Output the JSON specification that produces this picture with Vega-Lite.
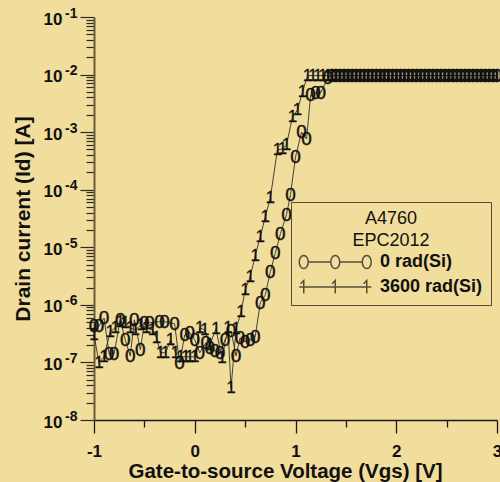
{
"$schema":"https://vega.github.io/schema/vega-lite/v6.json",
"width":403,"height":403,
"autosize":{"type":"none"},
"padding":{"left":94,"top":17,"right":3,"bottom":62},
"background":"#f1dd9c",
"config":{"view":{"stroke":null},"font":"Liberation Sans"},
"data":{"values":[
{"series":"0 rad(Si)","vgs":-1.00,"id":4.3e-7},{"series":"0 rad(Si)","vgs":-0.95,"id":4.3e-7},{"series":"0 rad(Si)","vgs":-0.90,"id":5.9e-7},{"series":"0 rad(Si)","vgs":-0.85,"id":1.41e-7},{"series":"0 rad(Si)","vgs":-0.80,"id":1.41e-7},{"series":"0 rad(Si)","vgs":-0.74,"id":5.5e-7},{"series":"0 rad(Si)","vgs":-0.69,"id":2.47e-7},{"series":"0 rad(Si)","vgs":-0.64,"id":1.3e-7},{"series":"0 rad(Si)","vgs":-0.60,"id":5.5e-7},{"series":"0 rad(Si)","vgs":-0.54,"id":1.66e-7},{"series":"0 rad(Si)","vgs":-0.50,"id":4.9e-7},{"series":"0 rad(Si)","vgs":-0.45,"id":4.9e-7},{"series":"0 rad(Si)","vgs":-0.35,"id":5.1e-7},{"series":"0 rad(Si)","vgs":-0.30,"id":5.1e-7},{"series":"0 rad(Si)","vgs":-0.20,"id":4.7e-7},{"series":"0 rad(Si)","vgs":-0.15,"id":9.8e-8},{"series":"0 rad(Si)","vgs":-0.10,"id":3.0e-7},{"series":"0 rad(Si)","vgs":-0.05,"id":3.3e-7},{"series":"0 rad(Si)","vgs":0.00,"id":2.47e-7},{"series":"0 rad(Si)","vgs":0.05,"id":1.47e-7},{"series":"0 rad(Si)","vgs":0.11,"id":2.19e-7},{"series":"0 rad(Si)","vgs":0.15,"id":1.79e-7},{"series":"0 rad(Si)","vgs":0.20,"id":1.59e-7},{"series":"0 rad(Si)","vgs":0.25,"id":1.47e-7},{"series":"0 rad(Si)","vgs":0.30,"id":2.47e-7},{"series":"0 rad(Si)","vgs":0.36,"id":3.5e-7},{"series":"0 rad(Si)","vgs":0.41,"id":1.3e-7},{"series":"0 rad(Si)","vgs":0.45,"id":2.67e-7},{"series":"0 rad(Si)","vgs":0.50,"id":2.28e-7},{"series":"0 rad(Si)","vgs":0.55,"id":2.47e-7},{"series":"0 rad(Si)","vgs":0.60,"id":2.78e-7},{"series":"0 rad(Si)","vgs":0.65,"id":1.08e-6},{"series":"0 rad(Si)","vgs":0.70,"id":1.49e-6},{"series":"0 rad(Si)","vgs":0.75,"id":3.74e-6},{"series":"0 rad(Si)","vgs":0.80,"id":8.0e-6},{"series":"0 rad(Si)","vgs":0.85,"id":1.71e-5},{"series":"0 rad(Si)","vgs":0.91,"id":3.65e-5},{"series":"0 rad(Si)","vgs":0.95,"id":8.1e-5},{"series":"0 rad(Si)","vgs":1.00,"id":3.7e-4},{"series":"0 rad(Si)","vgs":1.06,"id":1.0e-3},{"series":"0 rad(Si)","vgs":1.11,"id":7.6e-4},{"series":"0 rad(Si)","vgs":1.15,"id":4.4e-3},{"series":"0 rad(Si)","vgs":1.20,"id":4.8e-3},{"series":"0 rad(Si)","vgs":1.25,"id":4.8e-3},{"series":"0 rad(Si)","vgs":1.32,"id":8.7e-3},
{"series":"0 rad(Si)","vgs":1.36,"id":0.0096},{"series":"0 rad(Si)","vgs":1.40,"id":0.0096},{"series":"0 rad(Si)","vgs":1.44,"id":0.0096},{"series":"0 rad(Si)","vgs":1.48,"id":0.0096},{"series":"0 rad(Si)","vgs":1.52,"id":0.0096},{"series":"0 rad(Si)","vgs":1.56,"id":0.0096},{"series":"0 rad(Si)","vgs":1.60,"id":0.0096},{"series":"0 rad(Si)","vgs":1.64,"id":0.0096},{"series":"0 rad(Si)","vgs":1.68,"id":0.0096},{"series":"0 rad(Si)","vgs":1.72,"id":0.0096},{"series":"0 rad(Si)","vgs":1.76,"id":0.0096},{"series":"0 rad(Si)","vgs":1.80,"id":0.0096},{"series":"0 rad(Si)","vgs":1.84,"id":0.0096},{"series":"0 rad(Si)","vgs":1.88,"id":0.0096},{"series":"0 rad(Si)","vgs":1.92,"id":0.0096},{"series":"0 rad(Si)","vgs":1.96,"id":0.0096},{"series":"0 rad(Si)","vgs":2.00,"id":0.0096},{"series":"0 rad(Si)","vgs":2.04,"id":0.0096},{"series":"0 rad(Si)","vgs":2.08,"id":0.0096},{"series":"0 rad(Si)","vgs":2.12,"id":0.0096},{"series":"0 rad(Si)","vgs":2.16,"id":0.0096},{"series":"0 rad(Si)","vgs":2.20,"id":0.0096},{"series":"0 rad(Si)","vgs":2.24,"id":0.0096},{"series":"0 rad(Si)","vgs":2.28,"id":0.0096},{"series":"0 rad(Si)","vgs":2.32,"id":0.0096},{"series":"0 rad(Si)","vgs":2.36,"id":0.0096},{"series":"0 rad(Si)","vgs":2.40,"id":0.0096},{"series":"0 rad(Si)","vgs":2.44,"id":0.0096},{"series":"0 rad(Si)","vgs":2.48,"id":0.0096},{"series":"0 rad(Si)","vgs":2.52,"id":0.0096},{"series":"0 rad(Si)","vgs":2.56,"id":0.0096},{"series":"0 rad(Si)","vgs":2.60,"id":0.0096},{"series":"0 rad(Si)","vgs":2.64,"id":0.0096},{"series":"0 rad(Si)","vgs":2.68,"id":0.0096},{"series":"0 rad(Si)","vgs":2.72,"id":0.0096},{"series":"0 rad(Si)","vgs":2.76,"id":0.0096},{"series":"0 rad(Si)","vgs":2.80,"id":0.0096},{"series":"0 rad(Si)","vgs":2.84,"id":0.0096},{"series":"0 rad(Si)","vgs":2.88,"id":0.0096},{"series":"0 rad(Si)","vgs":2.92,"id":0.0096},{"series":"0 rad(Si)","vgs":2.96,"id":0.0096},{"series":"0 rad(Si)","vgs":3.00,"id":0.0096},
{"series":"3600 rad(Si)","vgs":-1.00,"id":3.0e-7},{"series":"3600 rad(Si)","vgs":-0.95,"id":9.8e-8},{"series":"3600 rad(Si)","vgs":-0.90,"id":1.25e-7},{"series":"3600 rad(Si)","vgs":-0.84,"id":3.4e-7},{"series":"3600 rad(Si)","vgs":-0.79,"id":4.0e-7},{"series":"3600 rad(Si)","vgs":-0.74,"id":5.07e-7},{"series":"3600 rad(Si)","vgs":-0.69,"id":4.86e-7},{"series":"3600 rad(Si)","vgs":-0.64,"id":4.0e-7},{"series":"3600 rad(Si)","vgs":-0.59,"id":3.68e-7},{"series":"3600 rad(Si)","vgs":-0.53,"id":4.5e-7},{"series":"3600 rad(Si)","vgs":-0.48,"id":4.0e-7},{"series":"3600 rad(Si)","vgs":-0.42,"id":3.68e-7},{"series":"3600 rad(Si)","vgs":-0.38,"id":2.67e-7},{"series":"3600 rad(Si)","vgs":-0.34,"id":1.47e-7},{"series":"3600 rad(Si)","vgs":-0.29,"id":1.47e-7},{"series":"3600 rad(Si)","vgs":-0.24,"id":2.47e-7},{"series":"3600 rad(Si)","vgs":-0.19,"id":1.47e-7},{"series":"3600 rad(Si)","vgs":-0.14,"id":1.25e-7},{"series":"3600 rad(Si)","vgs":-0.09,"id":1.25e-7},{"series":"3600 rad(Si)","vgs":-0.05,"id":1.25e-7},{"series":"3600 rad(Si)","vgs":0.00,"id":1.25e-7},{"series":"3600 rad(Si)","vgs":0.05,"id":4.0e-7},{"series":"3600 rad(Si)","vgs":0.10,"id":3.68e-7},{"series":"3600 rad(Si)","vgs":0.15,"id":2.02e-7},{"series":"3600 rad(Si)","vgs":0.21,"id":3.83e-7},{"series":"3600 rad(Si)","vgs":0.27,"id":1.2e-7},{"series":"3600 rad(Si)","vgs":0.33,"id":4.0e-7},{"series":"3600 rad(Si)","vgs":0.36,"id":3.6e-8},{"series":"3600 rad(Si)","vgs":0.41,"id":3.83e-7},{"series":"3600 rad(Si)","vgs":0.46,"id":7.55e-7},{"series":"3600 rad(Si)","vgs":0.50,"id":1.82e-6},{"series":"3600 rad(Si)","vgs":0.55,"id":3.06e-6},{"series":"3600 rad(Si)","vgs":0.60,"id":7.1e-6},{"series":"3600 rad(Si)","vgs":0.65,"id":1.52e-5},{"series":"3600 rad(Si)","vgs":0.70,"id":3.37e-5},{"series":"3600 rad(Si)","vgs":0.75,"id":7.2e-5},{"series":"3600 rad(Si)","vgs":0.82,"id":4.9e-4},{"series":"3600 rad(Si)","vgs":0.87,"id":5.1e-4},{"series":"3600 rad(Si)","vgs":0.91,"id":6.0e-4},{"series":"3600 rad(Si)","vgs":0.97,"id":1.84e-3},{"series":"3600 rad(Si)","vgs":1.02,"id":2.43e-3},{"series":"3600 rad(Si)","vgs":1.07,"id":5.0e-3},{"series":"3600 rad(Si)","vgs":1.12,"id":0.0096},{"series":"3600 rad(Si)","vgs":1.17,"id":0.0096},{"series":"3600 rad(Si)","vgs":1.22,"id":0.0096},{"series":"3600 rad(Si)","vgs":1.27,"id":0.0096},{"series":"3600 rad(Si)","vgs":1.32,"id":0.0096},
{"series":"3600 rad(Si)","vgs":1.36,"id":0.0096},{"series":"3600 rad(Si)","vgs":1.40,"id":0.0096},{"series":"3600 rad(Si)","vgs":1.44,"id":0.0096},{"series":"3600 rad(Si)","vgs":1.48,"id":0.0096},{"series":"3600 rad(Si)","vgs":1.52,"id":0.0096},{"series":"3600 rad(Si)","vgs":1.56,"id":0.0096},{"series":"3600 rad(Si)","vgs":1.60,"id":0.0096},{"series":"3600 rad(Si)","vgs":1.64,"id":0.0096},{"series":"3600 rad(Si)","vgs":1.68,"id":0.0096},{"series":"3600 rad(Si)","vgs":1.72,"id":0.0096},{"series":"3600 rad(Si)","vgs":1.76,"id":0.0096},{"series":"3600 rad(Si)","vgs":1.80,"id":0.0096},{"series":"3600 rad(Si)","vgs":1.84,"id":0.0096},{"series":"3600 rad(Si)","vgs":1.88,"id":0.0096},{"series":"3600 rad(Si)","vgs":1.92,"id":0.0096},{"series":"3600 rad(Si)","vgs":1.96,"id":0.0096},{"series":"3600 rad(Si)","vgs":2.00,"id":0.0096},{"series":"3600 rad(Si)","vgs":2.04,"id":0.0096},{"series":"3600 rad(Si)","vgs":2.08,"id":0.0096},{"series":"3600 rad(Si)","vgs":2.12,"id":0.0096},{"series":"3600 rad(Si)","vgs":2.16,"id":0.0096},{"series":"3600 rad(Si)","vgs":2.20,"id":0.0096},{"series":"3600 rad(Si)","vgs":2.24,"id":0.0096},{"series":"3600 rad(Si)","vgs":2.28,"id":0.0096},{"series":"3600 rad(Si)","vgs":2.32,"id":0.0096},{"series":"3600 rad(Si)","vgs":2.36,"id":0.0096},{"series":"3600 rad(Si)","vgs":2.40,"id":0.0096},{"series":"3600 rad(Si)","vgs":2.44,"id":0.0096},{"series":"3600 rad(Si)","vgs":2.48,"id":0.0096},{"series":"3600 rad(Si)","vgs":2.52,"id":0.0096},{"series":"3600 rad(Si)","vgs":2.56,"id":0.0096},{"series":"3600 rad(Si)","vgs":2.60,"id":0.0096},{"series":"3600 rad(Si)","vgs":2.64,"id":0.0096},{"series":"3600 rad(Si)","vgs":2.68,"id":0.0096},{"series":"3600 rad(Si)","vgs":2.72,"id":0.0096},{"series":"3600 rad(Si)","vgs":2.76,"id":0.0096},{"series":"3600 rad(Si)","vgs":2.80,"id":0.0096},{"series":"3600 rad(Si)","vgs":2.84,"id":0.0096},{"series":"3600 rad(Si)","vgs":2.88,"id":0.0096},{"series":"3600 rad(Si)","vgs":2.92,"id":0.0096},{"series":"3600 rad(Si)","vgs":2.96,"id":0.0096},{"series":"3600 rad(Si)","vgs":3.00,"id":0.0096}
]},
"encoding":{
"x":{"field":"vgs","type":"quantitative","scale":{"domain":[-1,3],"nice":false,"zero":false},
 "axis":{"values":[-1,-0.5,0,0.5,1,1.5,2,2.5,3],"labelExpr":"datum.value % 1 == 0 ? '' + datum.value : ''",
  "tickSize":{"condition":{"test":"datum.value % 1 == 0","value":13},"value":7},
  "tickColor":"#1a1a1a","tickWidth":1.3,"domainColor":"#1a1a1a","domainWidth":1.5,"grid":false,
  "labelFont":"Liberation Sans","labelFontSize":17,"labelFontWeight":"bold","labelColor":"#111","labelPadding":10,"labelFlush":false,"labelOverlap":false,
  "title":"Gate-to-source Voltage (Vgs) [V]","titleFont":"Liberation Sans","titleFontSize":20.5,"titleFontWeight":"bold","titleColor":"#111","titleX":191,"titleY":57,"titleBaseline":"alphabetic"}},
"y":{"field":"id","type":"quantitative","scale":{"type":"log","domain":[1e-8,0.1],"nice":false},
 "axis":{"orient":"left","values":[1e-8,2e-8,3e-8,4e-8,5e-8,6e-8,7e-8,8e-8,9e-8,1e-7,2e-7,3e-7,4e-7,5e-7,6e-7,7e-7,8e-7,9e-7,1e-6,2e-6,3e-6,4e-6,5e-6,6e-6,7e-6,8e-6,9e-6,1e-5,2e-5,3e-5,4e-5,5e-5,6e-5,7e-5,8e-5,9e-5,1e-4,2e-4,3e-4,4e-4,5e-4,6e-4,7e-4,8e-4,9e-4,1e-3,2e-3,3e-3,4e-3,5e-3,6e-3,7e-3,8e-3,9e-3,1e-2,2e-2,3e-2,4e-2,5e-2,6e-2,7e-2,8e-2,9e-2,1e-1],
  "labelExpr":"abs(log(datum.value)/LN10 - round(log(datum.value)/LN10)) < 0.000001 ? '10' : ''",
  "tickSize":{"condition":{"test":"abs(log(datum.value)/LN10 - round(log(datum.value)/LN10)) < 0.000001","value":14},"value":8},
  "tickColor":"#2a2a2a","tickWidth":1.2,"domainColor":"#6b5b3a","domainWidth":2,"grid":false,
  "labelFont":"Liberation Sans","labelFontSize":17,"labelFontWeight":"bold","labelColor":"#111","labelPadding":18,"labelOffset":2,"labelOverlap":false,
  "title":"Drain current (Id) [A]","titleFont":"Liberation Sans","titleFontSize":21,"titleFontWeight":"bold","titleColor":"#111","titleX":-65,"titleBaseline":"alphabetic"}}
},
"layer":[
{"layer":[
{"mark":{"type":"line","color":"#1a1a1a","strokeWidth":0.8},"encoding":{"detail":{"field":"series"}}},
{"transform":[{"filter":"datum.series == '0 rad(Si)'"}],"mark":{"type":"text","text":"0","font":"Liberation Sans","fontSize":19,"color":"#111","stroke":"#111","strokeWidth":0.4,"align":"center","baseline":"middle"}},
{"transform":[{"filter":"datum.series == '3600 rad(Si)'"}],"mark":{"type":"text","text":"1","font":"Liberation Sans","fontSize":17,"color":"#111","stroke":"#111","strokeWidth":0.3,"align":"center","baseline":"middle"}}
]},
{"transform":[{"filter":"datum.vgs > 100"}],"mark":{"type":"point","filled":false,"color":"#111","size":256,"strokeWidth":1.5},
 "encoding":{
  "y":{"field":"id","type":"quantitative","scale":{"type":"log","domain":[1e-8,0.1],"nice":false},
   "axis":{"orient":"left","values":[1e-8,1e-7,1e-6,1e-5,1e-4,1e-3,1e-2,1e-1],"labelExpr":"'-' + (-round(log(datum.value)/LN10))",
    "ticks":false,"tickSize":0,"domain":false,"grid":false,"labelFont":"Liberation Sans","labelFontSize":14,"labelFontWeight":"bold","labelColor":"#111","labelPadding":17,"labelOffset":-4,"labelOverlap":false,"title":null}},
  "shape":{"field":"series","type":"nominal",
  "scale":{"domain":["0 rad(Si)","3600 rad(Si)"],"range":[
   "M-1.094,0 A0.5625,0.8125 0 1,1 0.031,0 A0.5625,0.8125 0 1,1 -1.094,0 Z M0.031,0 L2.844,0 M2.844,0 A0.5625,0.8125 0 1,1 3.969,0 A0.5625,0.8125 0 1,1 2.844,0 Z M3.969,0 L6.781,0 M6.781,0 A0.5625,0.8125 0 1,1 7.906,0 A0.5625,0.8125 0 1,1 6.781,0 Z",
   "M-1.094,0 L7.906,0 M-0.931,-0.4 L-0.531,-0.8125 L-0.531,0.8125 M3.006,-0.4 L3.406,-0.8125 L3.406,0.8125 M6.944,-0.4 L7.344,-0.8125 L7.344,0.8125"]},
  "legend":{"orient":"none","legendX":197,"legendY":185,"title":["A4760","EPC2012"],
   "titleFont":"Liberation Sans","titleFontSize":18,"titleFontWeight":"normal","titleColor":"#111","titleAnchor":"middle","titleAlign":"center","titleLineHeight":22,"titlePadding":3,
   "labelFont":"Liberation Sans","labelFontSize":18,"labelFontWeight":"bold","labelColor":"#111","labelOffset":63,
   "symbolSize":256,"symbolStrokeWidth":1.5,"symbolStrokeColor":"#111","symbolFillColor":"transparent",
   "padding":8,"strokeColor":"#5a4c30","rowPadding":5}}}}
],
"resolve":{"axis":{"y":"independent"}}
}
